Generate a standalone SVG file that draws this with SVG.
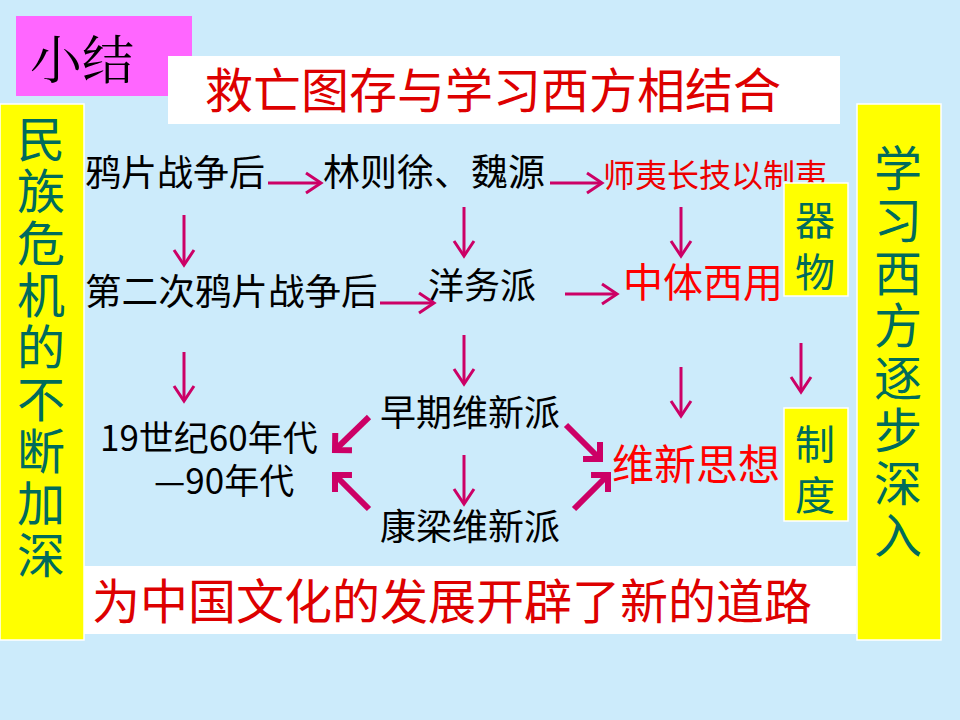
<svg xmlns="http://www.w3.org/2000/svg" width="960" height="720" viewBox="0 0 960 720">
<defs>
<style>
text{font-family:"Noto Sans CJK SC","Liberation Sans",sans-serif;}
.blk{fill:#000;font-size:36px;}
.grn{fill:#006B5C;font-size:48px;text-anchor:middle;}
.gsm{fill:#006B5C;font-size:40px;text-anchor:middle;}
.ybar{fill:#FFFF00;stroke:#FFFFFF;stroke-width:1.5;}
.thin{stroke:#CC0066;stroke-width:3;fill:none;marker-end:url(#hd);}
.thick{stroke:#CC0066;stroke-width:6;fill:none;marker-end:url(#hdk);}
</style>
<marker id="hd" markerUnits="userSpaceOnUse" markerWidth="40" markerHeight="40" refX="0" refY="0" orient="auto" viewBox="-20 -20 40 40" overflow="visible">
<path d="M-15,-10 L0,0 L-15,10" fill="none" stroke="#CC0066" stroke-width="3" stroke-linejoin="miter"/>
</marker>
<marker id="hdk" markerUnits="userSpaceOnUse" markerWidth="40" markerHeight="40" refX="0" refY="0" orient="auto" viewBox="-20 -20 40 40" overflow="visible">
<path d="M-12,-12 L0,0 L-12,12" fill="none" stroke="#CC0066" stroke-width="6" stroke-linejoin="miter"/>
</marker>
</defs>
<rect x="0" y="0" width="960" height="720" fill="#CCEBFB"/>

<g id="title">
<rect x="16" y="16" width="176" height="80" fill="#FF66FF"/>
<text x="30" y="79" style="font-size:52px;fill:#000;font-family:'Noto Serif CJK SC','Noto Sans CJK SC',serif">小结</text>
</g>

<g id="topBanner">
<rect x="168" y="56" width="672" height="68" fill="#FFFFFF"/>
<text x="205" y="108" style="font-size:48px;fill:#DD0000">救亡图存与学习西方相结合</text>
</g>

<g id="bottomBanner">
<rect x="80" y="566" width="776" height="68" fill="#FFFFFF"/>
<text x="92" y="619" style="font-size:48px;fill:#DD0000">为中国文化的发展开辟了新的道路</text>
</g>

<g id="leftBar">
<rect x="0" y="104" width="84" height="536" class="ybar"/>
<text x="41" y="157" class="grn">民</text>
<text x="41" y="209" class="grn">族</text>
<text x="41" y="261" class="grn">危</text>
<text x="41" y="313" class="grn">机</text>
<text x="41" y="365" class="grn">的</text>
<text x="41" y="417" class="grn">不</text>
<text x="41" y="469" class="grn">断</text>
<text x="41" y="521" class="grn">加</text>
<text x="41" y="573" class="grn">深</text>
</g>

<g id="rightBar">
<rect x="857" y="104" width="84" height="536" class="ybar"/>
<text x="898" y="186" class="grn">学</text>
<text x="898" y="238" class="grn">习</text>
<text x="898" y="291" class="grn">西</text>
<text x="898" y="343" class="grn">方</text>
<text x="898" y="396" class="grn">逐</text>
<text x="898" y="448" class="grn">步</text>
<text x="898" y="501" class="grn">深</text>
<text x="898" y="553" class="grn">入</text>
</g>

<g id="n1"><text x="85" y="186" class="blk">鸦片战争后</text></g>
<g id="n2"><text x="323" y="186" class="blk" style="font-size:37px">林则徐、魏源</text></g>
<g id="n3"><text x="603" y="187" style="font-size:32px;fill:#EE0000">师夷长技以制夷</text></g>
<g id="n4"><text x="85" y="305" class="blk" style="font-size:36.6px">第二次鸦片战争后</text></g>
<g id="n5"><text x="428" y="299" class="blk">洋务派</text></g>
<g id="n6"><text x="623" y="297" style="font-size:40px;fill:#FF0000">中体西用</text></g>
<g id="n7"><text x="380" y="426" class="blk">早期维新派</text></g>
<g id="n8"><text x="380" y="540" class="blk">康梁维新派</text></g>
<g id="n9">
<text x="100" y="451" class="blk" style="font-size:35px">19世纪60年代</text>
<text x="154" y="494" class="blk" style="font-size:35px">—90年代</text>
</g>
<g id="n10"><text x="612" y="480" style="font-size:42px;fill:#FF0000">维新思想</text></g>

<g id="connectors">
<path class="thin" d="M268,183 H321"/>
<path class="thin" d="M550,183 H602"/>
<path class="thin" d="M184,215 V265"/>
<path class="thin" d="M464,207 V256"/>
<path class="thin" d="M681,207 V256"/>
<path class="thin" d="M380,303 H434"/>
<path class="thin" d="M565,294 H617"/>
<path class="thin" d="M184,352 V401"/>
<path class="thin" d="M464,335 V384"/>
<path class="thin" d="M681,367 V416"/>
<path class="thin" d="M801,343 V392"/>
<path class="thin" d="M464,455 V504"/>
<path class="thick" d="M369,417 L335,450"/>
<path class="thick" d="M369,509 L335,475"/>
<path class="thick" d="M566,425 L600,459"/>
<path class="thick" d="M574,509 L608,475"/>
</g>

<g id="qiwu">
<rect x="784" y="183" width="64" height="113" class="ybar"/>
<text x="815" y="235" class="gsm">器</text>
<text x="815" y="287" class="gsm">物</text>
</g>
<g id="zhidu">
<rect x="784" y="408" width="64" height="113" class="ybar"/>
<text x="815" y="459" class="gsm">制</text>
<text x="815" y="510" class="gsm">度</text>
</g>
</svg>
